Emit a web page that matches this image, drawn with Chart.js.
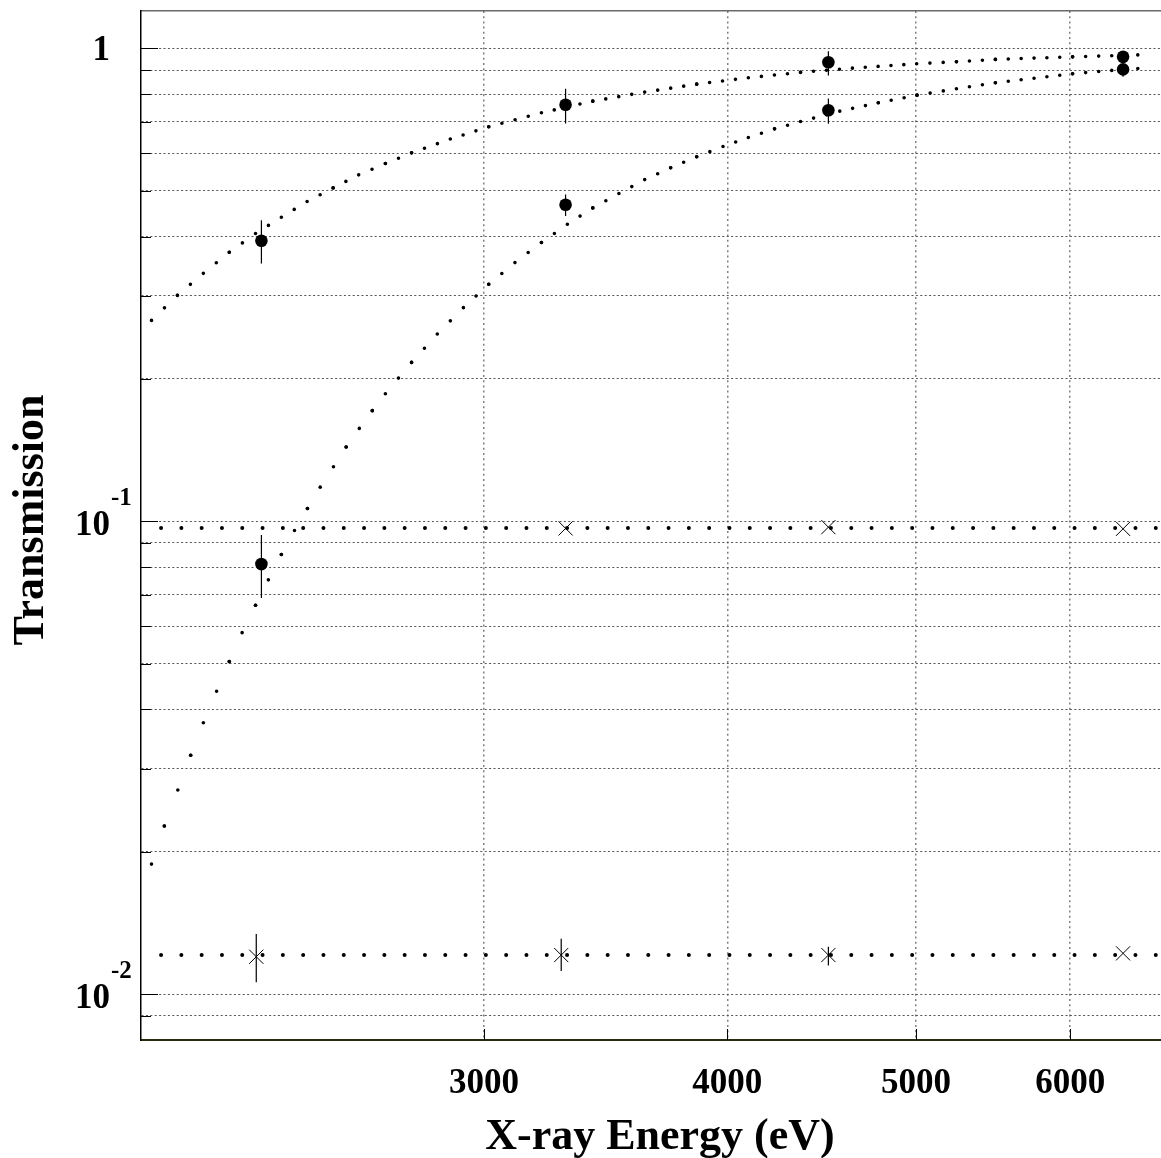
<!DOCTYPE html>
<html lang="en">
<head>
<meta charset="UTF-8">
<title>Transmission vs X-ray Energy</title>
<script src="https://cdn.jsdelivr.net/npm/chart.js"></script>
<style>
  html, body { margin: 0; padding: 0; background: #fff; overflow: hidden; }
  #wrap { width: 1161px; height: 1158px; position: relative; }
  canvas { display: block; }
</style>
</head>
<body>
<div id="wrap"><canvas id="myChart"></canvas></div>
<script>
// measured points (eV, transmission)
const energies = [2306, 3304, 4508, 6387];
const transA = [0.392, 0.760, 0.935, 0.960];
const errLoA = [0.351, 0.694, 0.877, 0.950];
const errHiA = [0.433, 0.822, 0.987, 0.972];
const transB = [0.0812, 0.467, 0.740, 0.903];
const errLoB = [0.0688, 0.442, 0.693, 0.871];
const errHiB = [0.0936, 0.491, 0.784, 0.924];

const energiesC = [3304, 4508, 6387];
const transC = [0.0966, 0.0972, 0.0964];

const energiesD = [2292, 3287, 4508, 6387];
const transD = [0.0120, 0.0121, 0.0121, 0.0122];
const errLoD = [0.0106, 0.0112, 0.0115, 0.0122];
const errHiD = [0.0134, 0.0131, 0.0126, 0.0122];

// model curves (dotted)
const modelEnergyA = [2025, 2088, 2153, 2220, 2290, 2361, 2434, 2510, 2587, 2670, 2754, 2883,
  3017, 3211, 3412, 3628, 3858, 4101, 4362, 4638, 5004, 5245, 5492, 5749, 6017, 6302, 6600];
const modelA = [0.266, 0.3005, 0.3345, 0.3706, 0.406, 0.4395, 0.4745, 0.5071, 0.5403, 0.571, 0.6015, 0.6433,
  0.683, 0.731, 0.7737, 0.8084, 0.8403, 0.8669, 0.890, 0.9085, 0.928, 0.9373, 0.948, 0.954, 0.960, 0.965, 0.971];

const modelEnergyB = [2025, 2056, 2089, 2121, 2153, 2187, 2220, 2254, 2290, 2325, 2361, 2398, 2435, 2472,
  2511, 2549, 2589, 2629, 2670, 2754, 2839, 2928, 3017, 3112, 3211, 3311, 3412, 3519, 3628, 3741, 3858,
  3980, 4101, 4230, 4362, 4569, 4782, 5006, 5245, 5492, 5749, 6017, 6302, 6600];
const modelB = [0.01884, 0.02268, 0.02702, 0.0320, 0.03751, 0.04372, 0.0505, 0.05815, 0.06647, 0.0752,
  0.0851, 0.0956, 0.1064, 0.1181, 0.1304, 0.1436, 0.1572, 0.1714, 0.1861, 0.2168, 0.2489, 0.2830, 0.3171,
  0.3525, 0.3886, 0.4247, 0.460, 0.4933, 0.528, 0.5592, 0.590, 0.6204, 0.648, 0.676, 0.7005, 0.7368,
  0.7675, 0.7965, 0.8218, 0.846, 0.8651, 0.8843, 0.8985, 0.9115];

// flat fits
const levelRange = [2048, 6680];
const levelC = 0.0968;
const levelD = 0.0121;

// axes
const xMin = 2000, xMax = 6680;
const yMin = 0.008, yMax = 1.2;
const xTicks = [3000, 4000, 5000, 6000];
const yTicks = [0.009, 0.01, 0.02, 0.03, 0.04, 0.05, 0.06, 0.07, 0.08, 0.09,
  0.1, 0.2, 0.3, 0.4, 0.5, 0.6, 0.7, 0.8, 0.9, 1];
const yDecades = [1, 0.1, 0.01];
const yDecadeBase = ['1', '10', '10'];
const yDecadeExp = ['', '-1', '-2'];

const serif = '"Liberation Serif", "Times New Roman", serif';

const pts = (xs, ys) => xs.map((x, i) => ({x: x, y: ys[i]}));

function errorBars(xs, lo, hi) {
  const out = [];
  xs.forEach((x, i) => {
    out.push({x: x, y: lo[i]}, {x: x, y: hi[i]}, {x: x, y: null});
  });
  return out;
}

// keep the dots evenly spaced in x, like the original sampled curve
const dotStep = 13;
function regularDots(ctx) {
  const dx = ctx.p1.x - ctx.p0.x;
  const dy = ctx.p1.y - ctx.p0.y;
  const n = Math.max(1, Math.round(dx / dotStep));
  return [0, Math.hypot(dx, dy) / n];
}

const axisDecor = {
  id: 'axisDecor',
  afterDraw(chart) {
    const {ctx, chartArea: a, scales: {x, y}} = chart;
    ctx.save();
    ctx.strokeStyle = '#000';
    ctx.lineWidth = 1;
    ctx.beginPath();
    yTicks.forEach(v => {
      const py = Math.round(y.getPixelForValue(v)) + 0.5;
      const len = yDecades.includes(v) ? 17 : 10;
      ctx.moveTo(a.left, py);
      ctx.lineTo(a.left + len, py);
    });
    xTicks.forEach(v => {
      const px = Math.round(x.getPixelForValue(v)) + 0.5;
      ctx.moveTo(px, a.bottom);
      ctx.lineTo(px, a.bottom - 11);
    });
    ctx.stroke();

    ctx.fillStyle = '#000';
    ctx.textBaseline = 'alphabetic';
    ctx.textAlign = 'left';
    // x tick labels
    ctx.font = 'bold 35px ' + serif;
    xTicks.forEach(v => {
      const w = ctx.measureText(String(v)).width;
      ctx.fillText(String(v), x.getPixelForValue(v) - w / 2, a.bottom + 53);
    });
    // y decade labels
    yDecades.forEach((v, i) => {
      const py = y.getPixelForValue(v);
      ctx.font = 'bold 35px ' + serif;
      const w = ctx.measureText(yDecadeBase[i]).width;
      ctx.fillText(yDecadeBase[i], a.left - 31 - w, py + (yDecadeExp[i] ? 14 : 12));
      if (yDecadeExp[i]) {
        ctx.font = 'bold 25px ' + serif;
        ctx.fillText(yDecadeExp[i], a.left - 30, py - 16);
      }
    });
    // axis titles
    ctx.font = 'bold 44px ' + serif;
    const tw = ctx.measureText('X-ray Energy (eV)').width;
    ctx.fillText('X-ray Energy (eV)', 660 - tw / 2, a.bottom + 109);
    ctx.translate(43, 520);
    ctx.rotate(-Math.PI / 2);
    const yw = ctx.measureText('Transmission').width;
    ctx.fillText('Transmission', -yw / 2, 0);
    ctx.restore();
  }
};

const ctx = document.getElementById('myChart').getContext('2d');
const myChart = new Chart(ctx, {
  type: 'scatter',
  data: {
    datasets: [
      {
        label: 'A', data: pts(energies, transA),
        pointStyle: 'circle', pointRadius: 6.3, backgroundColor: '#000', borderColor: '#000', borderWidth: 0
      },
      {
        label: 'B', data: pts(energies, transB),
        pointStyle: 'circle', pointRadius: 6.3, backgroundColor: '#000', borderColor: '#000', borderWidth: 0
      },
      {
        label: 'C', data: pts(energiesC, transC),
        pointStyle: 'crossRot', pointRadius: 10, borderColor: '#000', borderWidth: 1
      },
      {
        label: 'D', data: pts(energiesD, transD),
        pointStyle: 'crossRot', pointRadius: 10, borderColor: '#000', borderWidth: 1
      },
      {
        label: 'errors',
        data: errorBars(energies, errLoA, errHiA)
          .concat(errorBars(energies, errLoB, errHiB))
          .concat(errorBars(energiesD, errLoD, errHiD)),
        showLine: true, spanGaps: false, pointRadius: 0, borderColor: '#000', borderWidth: 1.2
      },
      {
        label: 'model A', data: pts(modelEnergyA, modelA),
        showLine: true, pointRadius: 0, borderColor: '#000', borderWidth: 3.6,
        borderCapStyle: 'round', segment: {borderDash: regularDots}
      },
      {
        label: 'model B', data: pts(modelEnergyB, modelB),
        showLine: true, pointRadius: 0, borderColor: '#000', borderWidth: 3.6,
        borderCapStyle: 'round', segment: {borderDash: regularDots}
      },
      {
        label: 'fit C', data: pts(levelRange, [levelC, levelC]),
        showLine: true, pointRadius: 0, borderColor: '#000', borderWidth: 4,
        borderCapStyle: 'round', borderDash: [0, 20.3]
      },
      {
        label: 'fit D', data: pts(levelRange, [levelD, levelD]),
        showLine: true, pointRadius: 0, borderColor: '#000', borderWidth: 4,
        borderCapStyle: 'round', borderDash: [0, 20.3]
      }
    ]
  },
  options: {
    responsive: true,
    maintainAspectRatio: false,
    animation: false,
    layout: { autoPadding: false, padding: { left: 141, top: 11, right: 0, bottom: 118 } },
    plugins: { legend: { display: false }, tooltip: { enabled: false } },
    scales: {
      x: {
        type: 'logarithmic', position: 'bottom', min: xMin, max: xMax, bounds: 'data',
        afterBuildTicks: s => { s.ticks = xTicks.map(v => ({value: v})); },
        ticks: { display: false },
        grid: { drawTicks: false, color: '#808080', lineWidth: 1.5 },
        border: { display: true, color: '#2a2a12', width: 2, dash: [2, 3.2] }
      },
      x2: {
        type: 'linear', position: 'top', min: 0, max: 1,
        ticks: { display: false },
        grid: { drawTicks: false, drawOnChartArea: false },
        border: { display: true, color: '#6a6a6a', width: 1.5 }
      },
      y: {
        type: 'logarithmic', position: 'left', min: yMin, max: yMax, bounds: 'data',
        afterBuildTicks: s => { s.ticks = yTicks.map(v => ({value: v})); },
        ticks: { display: false },
        grid: { drawTicks: false, color: '#555', lineWidth: 1 },
        border: { display: true, color: '#000', width: 1.5, dash: [2, 2.4] }
      }
    }
  },
  plugins: [axisDecor]
});
</script>
</body>
</html>
